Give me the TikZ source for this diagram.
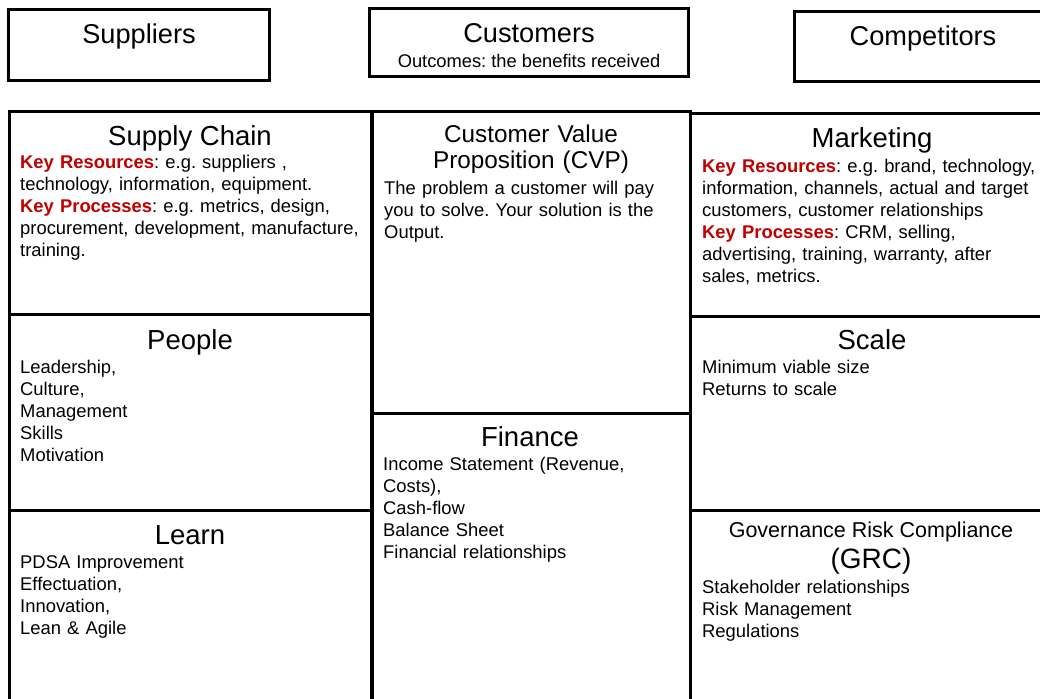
\documentclass[tikz,border=0pt]{standalone}
\usepackage{fontspec}
\setmainfont{Liberation Sans}
\definecolor{keyred}{HTML}{C00000}
\newcommand{\keyterm}[1]{\textcolor{keyred}{\textbf{#1}}}
\begin{document}
\frenchspacing
\begin{tikzpicture}[x=1pt,y=-1pt,
  frame/.style={draw=black,line width=3pt},
  toptitle/.style={inner sep=0pt,anchor=base,font=\fontsize{27.2}{29}\selectfont},
  paneltitle/.style={inner sep=0pt,anchor=base,font=\fontsize{27.5}{29}\selectfont},
  body/.style={inner sep=0pt,anchor=base west,text width=360pt,align=left,
               font=\fontsize{18.4}{22}\selectfont},
  subline/.style={inner sep=0pt,anchor=base,font=\fontsize{18.3}{22}\selectfont}]
\useasboundingbox (0,0) rectangle (1040,698);

% outer context boxes
\draw[frame] (8,10) rectangle (269,81);
\draw[frame] (369,9) rectangle (688,77);
\draw[frame] (794,12) rectangle (1060,82);

% left column: supply chain / people / learn
\draw[frame] (9,112) rectangle (371,712);
\draw[frame] (9,314) -- (371,314);
\draw[frame] (9,510) -- (371,510);

% middle column: CVP / finance
\draw[frame] (372,112) rectangle (690,712);
\draw[frame] (372,413) -- (690,413);

% right column: marketing / scale / GRC
\draw[frame] (690,114) rectangle (1060,712);
\draw[frame] (690,316) -- (1060,316);
\draw[frame] (690,510) -- (1060,510);

% context titles
\node[toptitle] (suppliers) at (139,44) {Suppliers};
\node[toptitle] (customers) at (529,43) {Customers};
\node[subline] (outcomes) at (529,68) {Outcomes: the benefits received};
\node[toptitle] (competitors) at (923,46) {Competitors};

% supply chain
\node[paneltitle] (supplyT) at (190,145) {Supply Chain};
\node[body,font=\fontsize{18.4}{22.2}\selectfont] (supplyB) at (20,168) {\keyterm{Key Resources}: e.g. suppliers ,\\
technology, information, equipment.\\
\keyterm{Key Processes}: e.g. metrics, design,\\
procurement, development, manufacture,\\
training.};

% customer value proposition
\node[inner sep=0pt,anchor=base,text width=310pt,align=center,
      font=\fontsize{24.3}{26.5}\selectfont]
  (cvpT) at (531,142) {Customer Value\\Proposition (CVP)};
\node[body] (cvpB) at (384,194) {The problem a customer will pay\\
you to solve. Your solution is the\\
Output.};

% marketing
\node[paneltitle] (marketingT) at (872,147) {Marketing};
\node[body] (marketingB) at (702,172) {\keyterm{Key Resources}: e.g. brand, technology,\\
information, channels, actual and target\\
customers, customer relationships\\
\keyterm{Key Processes}: CRM, selling,\\
advertising, training, warranty, after\\
sales, metrics.};

% people
\node[paneltitle] (peopleT) at (190,349) {People};
\node[body] (peopleB) at (20,373) {Leadership,\\Culture,\\Management\\Skills\\Motivation};

% learn
\node[paneltitle] (learnT) at (190,544) {Learn};
\node[body] (learnB) at (20,568) {PDSA Improvement\\Effectuation,\\Innovation,\\Lean \& Agile};

% finance
\node[paneltitle] (financeT) at (530,446) {Finance};
\node[body] (financeB) at (383,470) {Income Statement (Revenue,\\Costs),\\Cash-flow\\Balance Sheet\\Financial relationships};

% scale
\node[paneltitle] (scaleT) at (872,349) {Scale};
\node[body] (scaleB) at (702,373) {Minimum viable size\\Returns to scale};

% governance, risk, compliance
\node[inner sep=0pt,anchor=base,font=\fontsize{21.5}{23}\selectfont] (grcT) at (871,537) {Governance Risk Compliance};
\node[inner sep=0pt,anchor=base,font=\fontsize{28}{30}\selectfont] (grcAbbr) at (871,568) {(GRC)};
\node[body] (grcB) at (702,593) {Stakeholder relationships\\Risk Management\\Regulations};
\end{tikzpicture}
\end{document}
